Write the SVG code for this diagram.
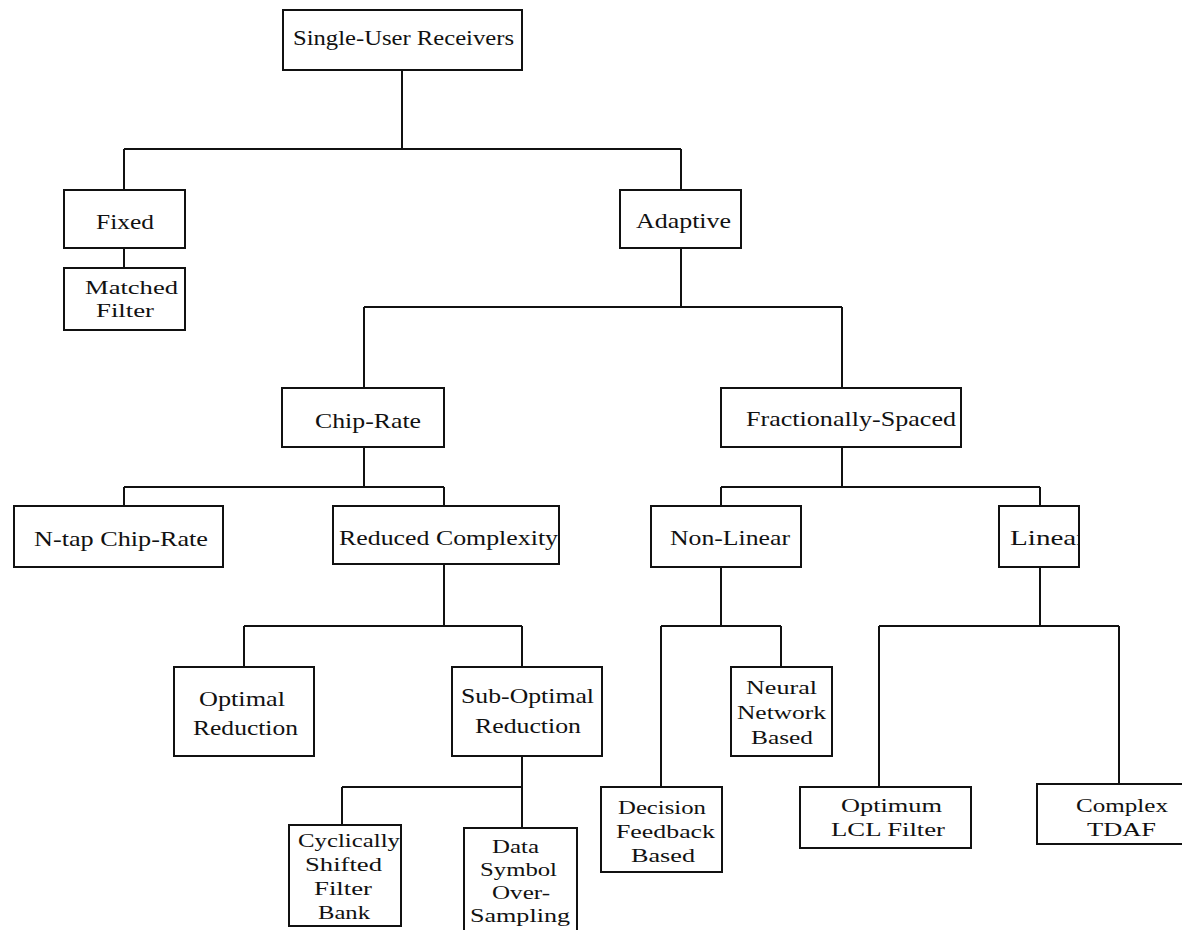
<svg xmlns="http://www.w3.org/2000/svg" width="1182" height="930" viewBox="0 0 1182 930">
<style>
.box{fill:#fff;stroke:#111;stroke-width:2}
.c{fill:none;stroke:#111;stroke-width:2}
text{font-family:"Liberation Serif","Times New Roman",serif;font-size:21px;fill:#111}
text.m{font-size:19px}
</style>
<defs>
<clipPath id="clipLinear"><rect x="999" y="506" width="79" height="61"/></clipPath>
</defs>
<rect width="1182" height="930" fill="#fff"/>
<g id="connectors">
<path class="c" d="M402 70V149M124 149H681M124 149V190M681 149V190"/>
<path class="c" d="M124 248V268"/>
<path class="c" d="M681 248V307M364 307H842M364 307V388M842 307V388"/>
<path class="c" d="M364 447V487M124 487H444M124 487V506M444 487V506"/>
<path class="c" d="M444 564V626M244 626H522M244 626V667M522 626V667"/>
<path class="c" d="M522 756V787M342 787H522M342 787V825M522 787V828"/>
<path class="c" d="M842 447V487M721 487H1040M721 487V506M1040 487V506"/>
<path class="c" d="M721 567V626M661 626H781M661 626V787M781 626V667"/>
<path class="c" d="M1040 567V626M879 626H1119M879 626V787M1119 626V784"/>
</g>
<g id="single-user">
<rect class="box" x="283" y="10" width="239" height="60"/>
<text x="293" y="45" textLength="221" lengthAdjust="spacingAndGlyphs">Single-User Receivers</text>
</g>
<g id="fixed">
<rect class="box" x="64" y="190" width="121" height="58"/>
<text x="96" y="229" textLength="58" lengthAdjust="spacingAndGlyphs">Fixed</text>
</g>
<g id="matched-filter">
<rect class="box" x="64" y="268" width="121" height="62"/>
<text class="m" x="85" y="294" textLength="93" lengthAdjust="spacingAndGlyphs">Matched</text>
<text class="m" x="96" y="317" textLength="58" lengthAdjust="spacingAndGlyphs">Filter</text>
</g>
<g id="adaptive">
<rect class="box" x="620" y="190" width="121" height="58"/>
<text x="636" y="228" textLength="95" lengthAdjust="spacingAndGlyphs">Adaptive</text>
</g>
<g id="chip-rate">
<rect class="box" x="282" y="388" width="162" height="59"/>
<text x="315" y="428" textLength="106" lengthAdjust="spacingAndGlyphs">Chip-Rate</text>
</g>
<g id="fractionally-spaced">
<rect class="box" x="721" y="388" width="240" height="59"/>
<text x="746" y="426" textLength="210" lengthAdjust="spacingAndGlyphs">Fractionally-Spaced</text>
</g>
<g id="ntap">
<rect class="box" x="14" y="506" width="209" height="61"/>
<text x="34" y="546" textLength="174" lengthAdjust="spacingAndGlyphs">N-tap Chip-Rate</text>
</g>
<g id="reduced-complexity">
<rect class="box" x="333" y="506" width="226" height="58"/>
<text x="339" y="545" textLength="219" lengthAdjust="spacingAndGlyphs">Reduced Complexity</text>
</g>
<g id="non-linear">
<rect class="box" x="651" y="506" width="150" height="61"/>
<text x="670" y="545" textLength="120" lengthAdjust="spacingAndGlyphs">Non-Linear</text>
</g>
<g id="linear">
<rect class="box" x="999" y="506" width="80" height="61"/>
<text x="1010" y="545" textLength="76" lengthAdjust="spacingAndGlyphs" clip-path="url(#clipLinear)">Linear</text>
</g>
<g id="optimal-reduction">
<rect class="box" x="174" y="667" width="140" height="89"/>
<text x="199" y="706" textLength="86" lengthAdjust="spacingAndGlyphs">Optimal</text>
<text x="193" y="735" textLength="105" lengthAdjust="spacingAndGlyphs">Reduction</text>
</g>
<g id="sub-optimal-reduction">
<rect class="box" x="452" y="667" width="150" height="89"/>
<text x="461" y="703" textLength="133" lengthAdjust="spacingAndGlyphs">Sub-Optimal</text>
<text x="475" y="733" textLength="106" lengthAdjust="spacingAndGlyphs">Reduction</text>
</g>
<g id="neural-network">
<rect class="box" x="731" y="667" width="101" height="89"/>
<text class="m" x="746" y="694" textLength="71" lengthAdjust="spacingAndGlyphs">Neural</text>
<text class="m" x="737" y="719" textLength="89" lengthAdjust="spacingAndGlyphs">Network</text>
<text class="m" x="751" y="744" textLength="62" lengthAdjust="spacingAndGlyphs">Based</text>
</g>
<g id="cyclically-shifted">
<rect class="box" x="289" y="825" width="112" height="101"/>
<text class="m" x="298" y="847" textLength="102" lengthAdjust="spacingAndGlyphs">Cyclically</text>
<text class="m" x="305" y="871" textLength="77" lengthAdjust="spacingAndGlyphs">Shifted</text>
<text class="m" x="314" y="895" textLength="58" lengthAdjust="spacingAndGlyphs">Filter</text>
<text class="m" x="318" y="919" textLength="52" lengthAdjust="spacingAndGlyphs">Bank</text>
</g>
<g id="data-symbol">
<rect class="box" x="464" y="828" width="113" height="112"/>
<text class="m" x="492" y="853" textLength="47" lengthAdjust="spacingAndGlyphs">Data</text>
<text class="m" x="480" y="876" textLength="77" lengthAdjust="spacingAndGlyphs">Symbol</text>
<text class="m" x="492" y="899" textLength="58" lengthAdjust="spacingAndGlyphs">Over-</text>
<text class="m" x="470" y="922" textLength="100" lengthAdjust="spacingAndGlyphs">Sampling</text>
</g>
<g id="decision-feedback">
<rect class="box" x="601" y="787" width="121" height="85"/>
<text class="m" x="618" y="814" textLength="88" lengthAdjust="spacingAndGlyphs">Decision</text>
<text class="m" x="616" y="838" textLength="99" lengthAdjust="spacingAndGlyphs">Feedback</text>
<text class="m" x="631" y="862" textLength="64" lengthAdjust="spacingAndGlyphs">Based</text>
</g>
<g id="optimum-lcl">
<rect class="box" x="800" y="787" width="171" height="61"/>
<text class="m" x="841" y="812" textLength="101" lengthAdjust="spacingAndGlyphs">Optimum</text>
<text class="m" x="831" y="836" textLength="114" lengthAdjust="spacingAndGlyphs">LCL Filter</text>
</g>
<g id="complex-tdaf">
<rect class="box" x="1037" y="784" width="150" height="60"/>
<text class="m" x="1076" y="812" textLength="92" lengthAdjust="spacingAndGlyphs">Complex</text>
<text class="m" x="1087" y="836" textLength="69" lengthAdjust="spacingAndGlyphs">TDAF</text>
</g>
</svg>
